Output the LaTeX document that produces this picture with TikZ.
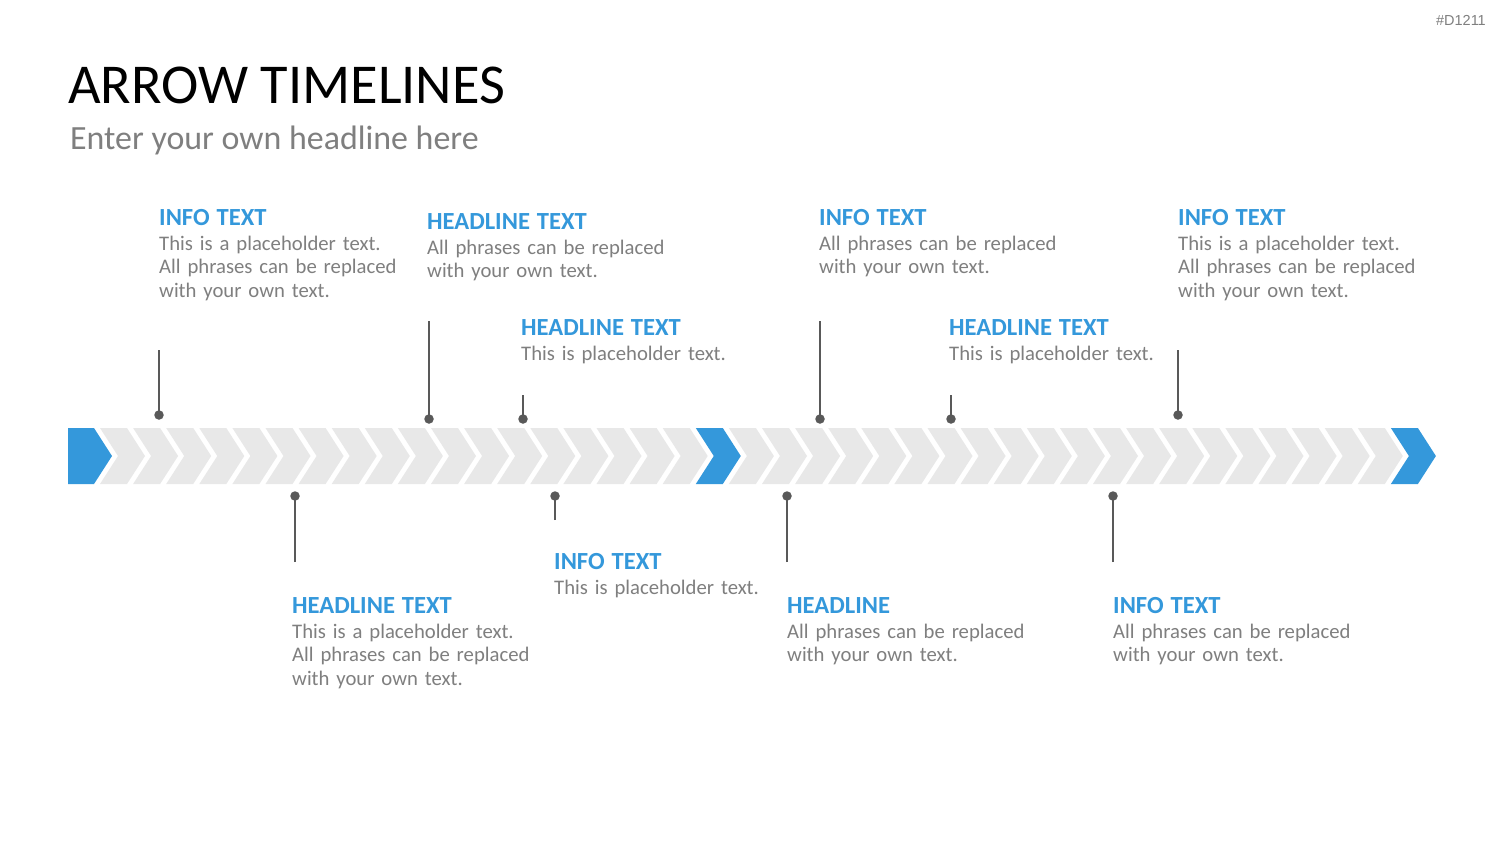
\documentclass[tikz,border=0pt]{standalone}
\usepackage{fontspec}
\setmainfont{Carlito}
\newfontfamily\tagfont{Liberation Sans}
\definecolor{tlblue}{HTML}{3498DB}
\definecolor{tlgrey}{HTML}{E8E8E8}
\definecolor{txtgrey}{HTML}{7F7F7F}
\definecolor{mark}{HTML}{595959}
\tikzset{
  chev/.style={fill=tlgrey, draw=none},
  bluechev/.style={fill=tlblue, draw=none},
  blk/.style={anchor=base west, inner sep=0pt, text width=330pt, align=left,
    font=\fontsize{20.7}{23.5}\selectfont, text=txtgrey},
  dotnode/.style={circle, fill=mark, inner sep=0pt, minimum size=9.5pt},
  stem/.style={draw=mark, line width=2pt},
}
\newcommand{\hd}[1]{{\fontsize{24.6}{30}\selectfont\bfseries\color{tlblue}#1}\\[1.5pt]}
\begin{document}
\begin{tikzpicture}[x=1pt, y=-1pt]
\useasboundingbox (0,0) rectangle (1500,844);
\fill[white] (0,0) rectangle (1500,844);

% tag
\node[anchor=base east, inner sep=0pt, text=txtgrey, font=\tagfont\fontsize{14.5}{17}\selectfont] (tag) at (1486,25) {\#D1211};

% title
\node[anchor=base west, inner sep=0pt, font=\fontsize{56.3}{66}\selectfont] (title) at (68,103) {ARROW TIMELINES};
\node[anchor=base west, inner sep=0pt, text=txtgrey, font=\fontsize{33.9}{40}\selectfont] (subtitle) at (70,149) {Enter your own headline here};

% chevron strip
\fill[bluechev] (68,428) -- (94,428) -- (112,456) -- (94,484) -- (68,484) -- cycle;
\foreach \k in {0,...,39}{
  \pgfmathsetmacro{\xx}{100+\k*33.1}
  \ifnum\k=18 \def\cs{bluechev}\else\ifnum\k=39 \def\cs{bluechev}\else\def\cs{chev}\fi\fi
  \fill[\cs] (\xx,428) -- ++(27,0) -- ++(18,28) -- ++(-18,28) -- ++(-27,0) -- ++(18,-28) -- cycle;
}

% markers
\foreach \n/\x/\ya/\yb in {a/159/350/415, b/429/321/419, c/523/395/419, d/820/321/419, e/951/395/419, f/1178/350/415,
                           g/295/562/496, h/555/520/496, i/787/562/496, j/1113/562/496}{
  \node[dotnode] (dot\n) at (\x,\yb) {};
  \coordinate (end\n) at (\x,\ya);
  \draw[stem] (end\n) -- (dot\n.center);
}

% text blocks
\node[blk] (t1) at (159,225) {\hd{INFO TEXT}This is a placeholder text.\\All phrases can be replaced\\with your own text.};
\node[blk] (t2) at (427,229) {\hd{HEADLINE TEXT}All phrases can be replaced\\with your own text.};
\node[blk] (t3) at (819,225) {\hd{INFO TEXT}All phrases can be replaced\\with your own text.};
\node[blk] (t4) at (1178,225) {\hd{INFO TEXT}This is a placeholder text.\\All phrases can be replaced\\with your own text.};
\node[blk] (t5) at (521,335) {\hd{HEADLINE TEXT}This is placeholder text.};
\node[blk] (t6) at (949,335) {\hd{HEADLINE TEXT}This is placeholder text.};
\node[blk] (t7) at (554,569) {\hd{INFO TEXT}This is placeholder text.};
\node[blk] (t8) at (292,613) {\hd{HEADLINE TEXT}This is a placeholder text.\\All phrases can be replaced\\with your own text.};
\node[blk] (t9) at (787,613) {\hd{HEADLINE}All phrases can be replaced\\with your own text.};
\node[blk] (t10) at (1113,613) {\hd{INFO TEXT}All phrases can be replaced\\with your own text.};
\end{tikzpicture}
\end{document}
